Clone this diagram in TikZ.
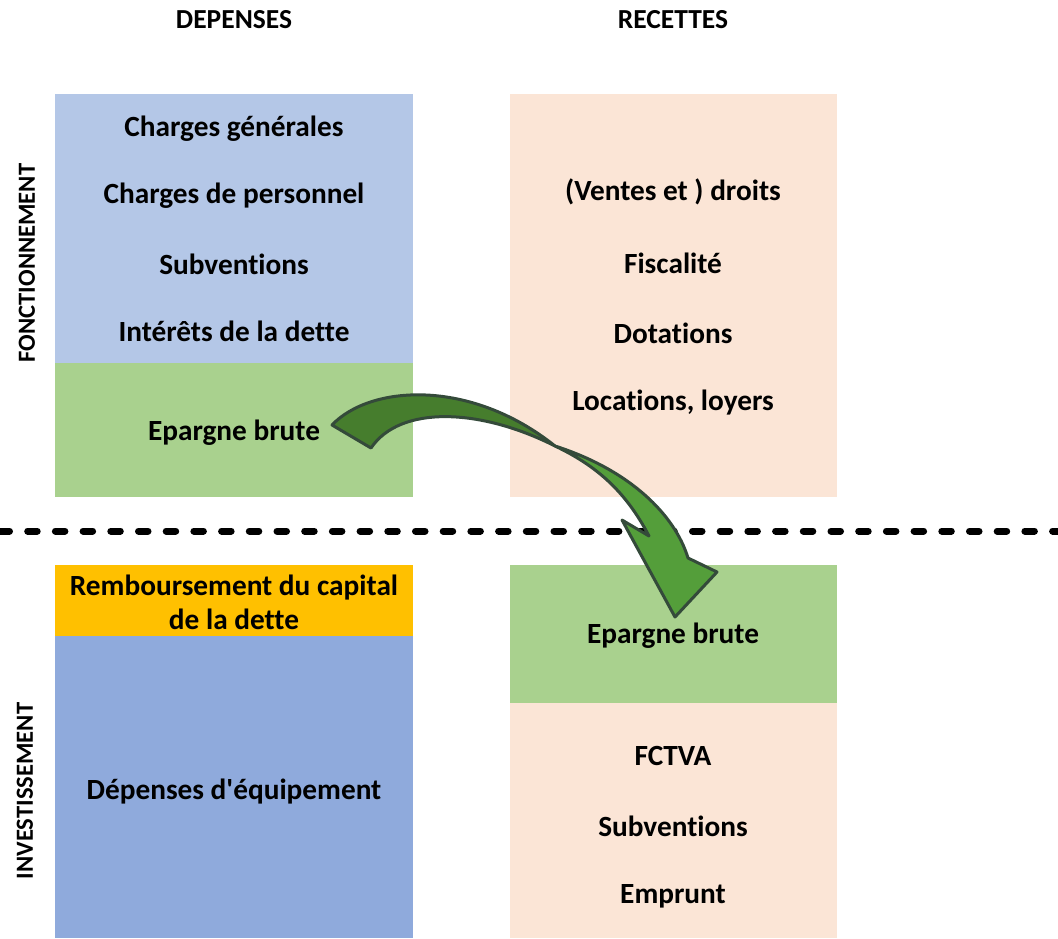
\documentclass[tikz,border=0pt]{standalone}
\usepackage{fontspec}
\setmainfont{Carlito}[Ligatures={NoCommon}]
\usetikzlibrary{positioning}
\definecolor{depBlue}{RGB}{180,199,231}
\definecolor{equipBlue}{RGB}{143,170,220}
\definecolor{epargneGreen}{RGB}{169,209,142}
\definecolor{recPeach}{RGB}{251,229,214}
\definecolor{rembOrange}{RGB}{255,192,0}
\definecolor{arrowDark}{RGB}{70,125,45}
\definecolor{arrowLight}{RGB}{84,158,58}
\definecolor{arrowLine}{RGB}{52,74,58}

\begin{document}
\begin{tikzpicture}[
    x=1pt, y=-1pt,
    bloc/.style={rectangle, inner sep=0pt, outer sep=0pt},
    leftbloc/.style={bloc, minimum width=358pt},
    rightbloc/.style={bloc, minimum width=327pt},
    item/.style={font=\fontsize{29.3}{35}\selectfont\bfseries, align=center},
    header/.style={font=\fontsize{27.5}{32}\selectfont\bfseries},
    side/.style={font=\fontsize{24.6}{29}\selectfont\bfseries, rotate=90},
    separator/.style={line width=7pt, line cap=round, dash pattern=on 9.5pt off 18.2pt}
]
\useasboundingbox (0,0) rectangle (1058,938);

% colonnes
\node[header] (depenses) at (234,20) {DEPENSES};
\node[header] (recettes) at (673,20) {RECETTES};
\node[side] (fonct) at (27,263) {FONCTIONNEMENT};
\node[side] (invest) at (25,791) {INVESTISSEMENT};

% section de fonctionnement
\node[leftbloc, fill=depBlue, minimum height=269pt] (fonctDep) at (234,228.5) {};
\node[leftbloc, fill=epargneGreen, minimum height=134pt, below=0pt of fonctDep] (epargneDep) {};
\node[rightbloc, fill=recPeach, minimum height=403pt] (fonctRec) at (673.5,295.5) {};

\node[item] (charges) at (234,129) {Charges générales};
\node[item] (personnel) at (234,196) {Charges de personnel};
\node[item] (subvDep) at (234,264) {Subventions};
\node[item] (interets) at (234,331) {Intérêts de la dette};
\node[item] (epargneA) at (234,433) {Epargne brute};

\node[item] (ventes) at (673,192) {(Ventes et ) droits};
\node[item] (fiscalite) at (673,263) {Fiscalité};
\node[item] (dotations) at (673,333) {Dotations};
\node[item] (locations) at (673,403) {Locations, loyers};

% section d'investissement
\node[leftbloc, fill=rembOrange, minimum height=71pt] (rembDep) at (234,600.5) {};
\node[leftbloc, fill=equipBlue, minimum height=302pt, below=0pt of rembDep] (equipDep) {};
\node[rightbloc, fill=epargneGreen, minimum height=138pt] (epargneRec) at (673.5,634) {};
\node[rightbloc, fill=recPeach, minimum height=235pt, below=0pt of epargneRec] (investRec) {};

\node[item, text depth=0pt] (remb) at (234,602) {Remboursement du capital\\[-1.5pt]de la dette};
\node[item] (equipement) at (234,792) {Dépenses d\textquotesingle équipement};
\node[item] (epargneB) at (673,636) {Epargne brute};
\node[item] (fctva) at (673,756) {FCTVA};
\node[item] (subvRec) at (673,826) {Subventions};
\node[item] (emprunt) at (673,896) {Emprunt};

% separation
\draw[separator] (0,531) -- (1058,531);

% fleche epargne brute
\draw[arrowLine, line width=3pt, line join=round, fill=arrowDark]
    (332,425) .. controls (370,385) and (470,378) .. (555,446)
    .. controls (480,408) and (400,405) .. (371,448) -- cycle;
\draw[arrowLine, line width=3pt, line join=round, fill=arrowLight]
    (555,446) .. controls (630,470) and (675,515) .. (688,558)
    -- (717,572) -- (675,617) -- (622,520) -- (649,536)
    .. controls (625,490) and (595,465) .. (555,446) -- cycle;

\end{tikzpicture}
\end{document}
